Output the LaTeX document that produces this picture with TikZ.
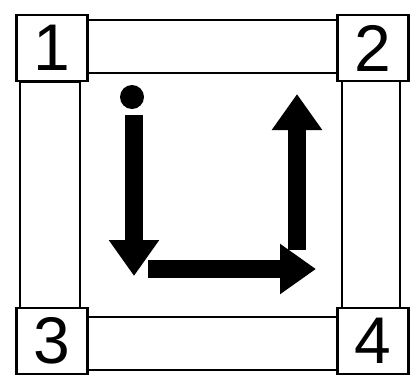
\documentclass[tikz,border=0pt]{standalone}
\usepackage{fontspec}
\setmainfont{Liberation Sans}
\usetikzlibrary{arrows.meta}

\begin{document}
\begin{tikzpicture}[x=1pt, y=-1pt, line width=2.6pt,
        corner/.style={rectangle, draw, fill=white, minimum width=71pt, minimum height=66pt, inner sep=0pt, font=\fontsize{66}{66}\selectfont},
        bar/.style={draw},
        fat/.style={line width=18pt, -{Triangle[width=48pt,length=36pt]}}]
    \useasboundingbox (0,0) rectangle (411,378);

    % frame bars
    \draw [bar] (88,20) rectangle (337,73);
    \draw [bar] (88,317) rectangle (337,370);
    \draw [bar] (20,82) rectangle (80,308);
    \draw [bar] (342,80) rectangle (400,308);

    % corner boxes
    \node [corner] (one) at (52,48) {1};
    \node [corner] (two) at (373,48) {2};
    \node [corner] (three) at (52,341) {3};
    \node [corner] (four) at (373,341) {4};

    % path inside
    \fill (132,97) circle (12pt);
    \coordinate (start) at (134,115);
    \coordinate (low) at (134,276);
    \coordinate (turn) at (148,269);
    \coordinate (right) at (316,269);
    \coordinate (foot) at (297,250);
    \coordinate (top) at (297,94);
    \draw [fat] (start) -- (low);
    \draw [fat] (turn) -- (right);
    \draw [fat] (foot) -- (top);

\end{tikzpicture}
\end{document}
